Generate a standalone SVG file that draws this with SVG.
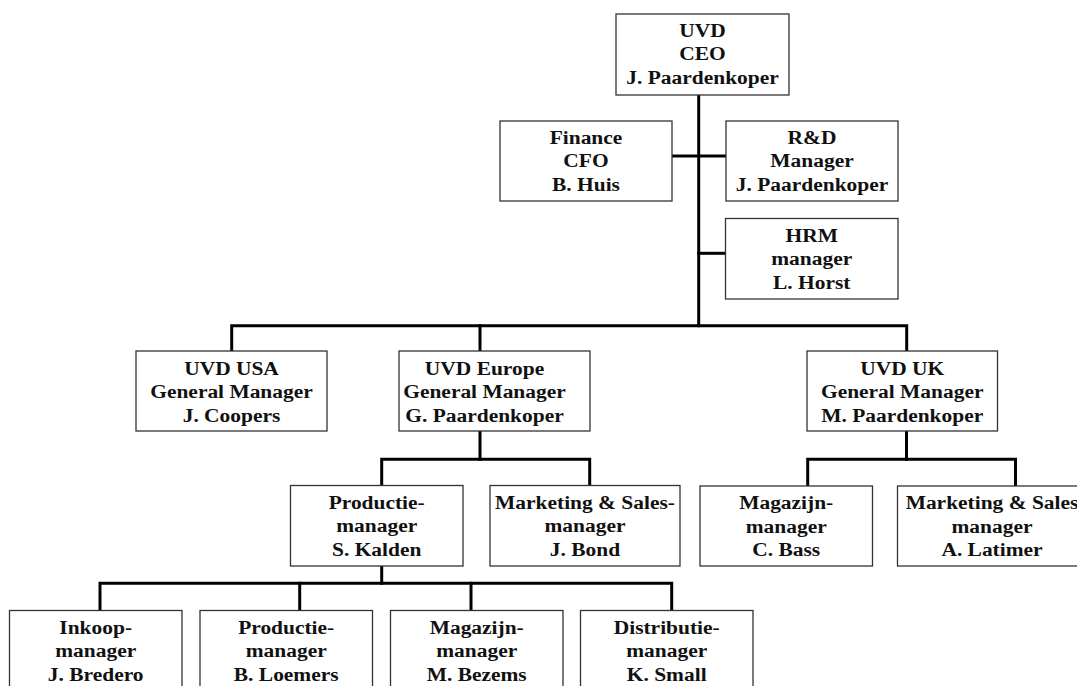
<svg xmlns="http://www.w3.org/2000/svg" width="1077" height="686" viewBox="0 0 1077 686">
  <style>
    .box { fill: #ffffff; stroke: #333333; stroke-width: 1.3; }
    .lbl { font-family: "Liberation Serif", "Times New Roman", serif; font-weight: bold; font-size: 19.5px; fill: #111111; text-anchor: middle; }
    .wire { fill: none; stroke: #000000; stroke-width: 3; stroke-linecap: square; }
  </style>
  <rect width="1077" height="686" fill="#ffffff"/>

  <!-- reporting lines -->
  <g id="connectors">
    <path class="wire" d="M698.7 95 V325.7"/>
    <path class="wire" d="M672 156 H726"/>
    <path class="wire" d="M698.7 253.3 H725"/>
    <path class="wire" d="M231.7 351 V325.7 H906.7 V351"/>
    <path class="wire" d="M480 325.7 V351"/>
    <path class="wire" d="M480 431 V459.3"/>
    <path class="wire" d="M381.7 485.5 V459.3 H589.7 V485.5"/>
    <path class="wire" d="M906.5 431 V459.3"/>
    <path class="wire" d="M807.7 486 V459.3 H1015.5 V486"/>
    <path class="wire" d="M381.7 566 V583.3"/>
    <path class="wire" d="M100 610.5 V583.3 H671.7 V610.5"/>
    <path class="wire" d="M299.7 583.3 V610.5"/>
    <path class="wire" d="M471 583.3 V610.5"/>
  </g>

  <!-- top management -->
  <g id="ceo">
    <rect class="box" x="616" y="14" width="173" height="81"/>
    <text class="lbl" transform="translate(702.5 0) scale(1.1 1)"><tspan x="0" y="37">UVD</tspan><tspan x="0" y="60.5">CEO</tspan><tspan x="0" y="84">J. Paardenkoper</tspan></text>
  </g>
  <g id="finance">
    <rect class="box" x="500" y="121" width="172" height="80"/>
    <text class="lbl" transform="translate(586 0) scale(1.1 1)"><tspan x="0" y="144.5">Finance</tspan><tspan x="0" y="167.5">CFO</tspan><tspan x="0" y="191">B. Huis</tspan></text>
  </g>
  <g id="rnd">
    <rect class="box" x="726" y="121" width="172" height="80"/>
    <text class="lbl" transform="translate(812 0) scale(1.1 1)"><tspan x="0" y="144.5">R&amp;D</tspan><tspan x="0" y="167.5">Manager</tspan><tspan x="0" y="191">J. Paardenkoper</tspan></text>
  </g>
  <g id="hrm">
    <rect class="box" x="725.5" y="218.5" width="172.5" height="80.5"/>
    <text class="lbl" transform="translate(811.7 0) scale(1.1 1)"><tspan x="0" y="242">HRM</tspan><tspan x="0" y="265.3">manager</tspan><tspan x="0" y="288.6">L. Horst</tspan></text>
  </g>

  <!-- business units -->
  <g id="usa">
    <rect class="box" x="136" y="351" width="191" height="80"/>
    <text class="lbl" transform="translate(231.5 0) scale(1.1 1)"><tspan x="0" y="375">UVD USA</tspan><tspan x="0" y="398.5">General Manager</tspan><tspan x="0" y="422">J. Coopers</tspan></text>
  </g>
  <g id="europe">
    <rect class="box" x="399" y="351" width="191" height="80"/>
    <text class="lbl" transform="translate(484.5 0) scale(1.1 1)"><tspan x="0" y="375">UVD Europe</tspan><tspan x="0" y="398.5">General Manager</tspan><tspan x="0" y="422">G. Paardenkoper</tspan></text>
  </g>
  <g id="uk">
    <rect class="box" x="807" y="351" width="190.5" height="80"/>
    <text class="lbl" transform="translate(902.2 0) scale(1.1 1)"><tspan x="0" y="375">UVD UK</tspan><tspan x="0" y="398.5">General Manager</tspan><tspan x="0" y="422">M. Paardenkoper</tspan></text>
  </g>

  <!-- europe departments -->
  <g id="europe-productie">
    <rect class="box" x="290.5" y="485.5" width="172.5" height="80.5"/>
    <text class="lbl" transform="translate(376.7 0) scale(1.1 1)"><tspan x="0" y="509">Productie-</tspan><tspan x="0" y="532.3">manager</tspan><tspan x="0" y="555.6">S. Kalden</tspan></text>
  </g>
  <g id="europe-marketing">
    <rect class="box" x="490" y="485.5" width="190" height="80.5"/>
    <text class="lbl" transform="translate(585 0) scale(1.1 1)"><tspan x="0" y="509">Marketing &amp; Sales-</tspan><tspan x="0" y="532.3">manager</tspan><tspan x="0" y="555.6">J. Bond</tspan></text>
  </g>

  <!-- uk departments -->
  <g id="uk-magazijn">
    <rect class="box" x="700" y="486" width="172.5" height="80"/>
    <text class="lbl" transform="translate(786.2 0) scale(1.1 1)"><tspan x="0" y="509.5">Magazijn-</tspan><tspan x="0" y="532.8">manager</tspan><tspan x="0" y="556.1">C. Bass</tspan></text>
  </g>
  <g id="uk-marketing">
    <rect class="box" x="897.5" y="486" width="190" height="80"/>
    <text class="lbl" transform="translate(992 0) scale(1.1 1)"><tspan x="0" y="509.5">Marketing &amp; Sales</tspan><tspan x="0" y="532.8">manager</tspan><tspan x="0" y="556.1">A. Latimer</tspan></text>
  </g>

  <!-- production departments -->
  <g id="inkoop">
    <rect class="box" x="9.5" y="610.5" width="172.5" height="90"/>
    <text class="lbl" transform="translate(95.7 0) scale(1.1 1)"><tspan x="0" y="634">Inkoop-</tspan><tspan x="0" y="657.3">manager</tspan><tspan x="0" y="680.6">J. Bredero</tspan></text>
  </g>
  <g id="productie">
    <rect class="box" x="200" y="610.5" width="172.5" height="90"/>
    <text class="lbl" transform="translate(286.2 0) scale(1.1 1)"><tspan x="0" y="634">Productie-</tspan><tspan x="0" y="657.3">manager</tspan><tspan x="0" y="680.6">B. Loemers</tspan></text>
  </g>
  <g id="magazijn">
    <rect class="box" x="390.5" y="610.5" width="172.5" height="90"/>
    <text class="lbl" transform="translate(476.7 0) scale(1.1 1)"><tspan x="0" y="634">Magazijn-</tspan><tspan x="0" y="657.3">manager</tspan><tspan x="0" y="680.6">M. Bezems</tspan></text>
  </g>
  <g id="distributie">
    <rect class="box" x="580.5" y="610.5" width="172.5" height="90"/>
    <text class="lbl" transform="translate(666.7 0) scale(1.1 1)"><tspan x="0" y="634">Distributie-</tspan><tspan x="0" y="657.3">manager</tspan><tspan x="0" y="680.6">K. Small</tspan></text>
  </g>
</svg>
